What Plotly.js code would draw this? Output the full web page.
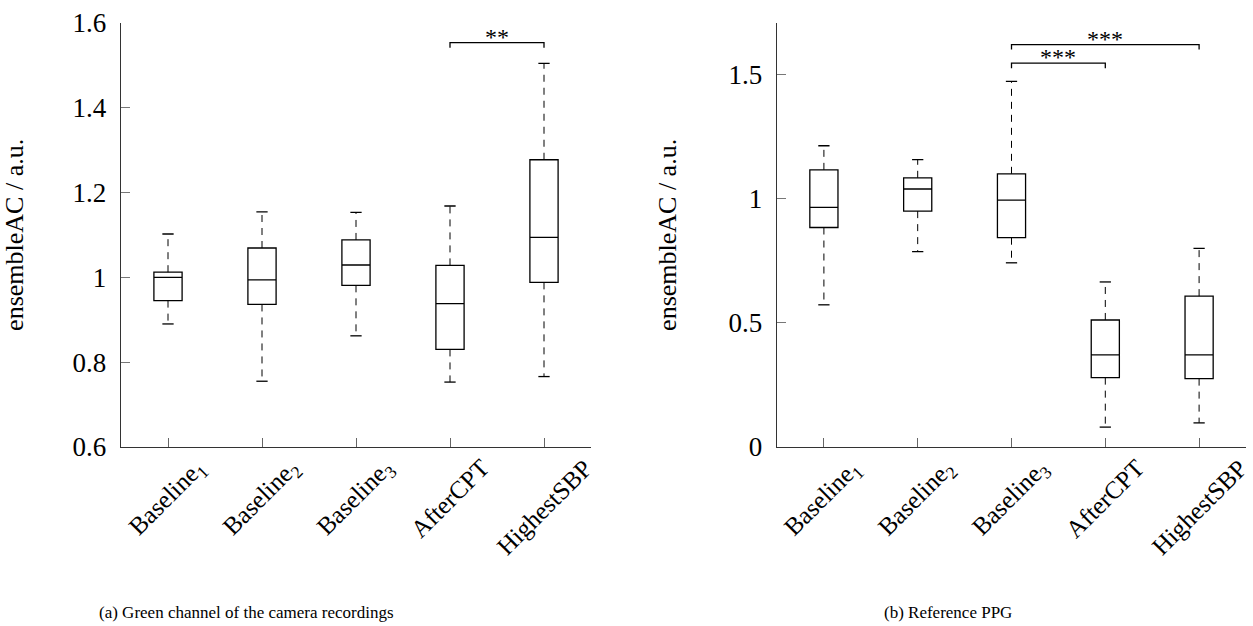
<!DOCTYPE html>
<html>
<head>
<meta charset="utf-8">
<script src="https://cdn.plot.ly/plotly-3.0.1.min.js"></script>
<style>html,body{margin:0;padding:0;background:#fff;}#chart{width:1253px;height:626px;}</style>
</head>
<body>
<div id="chart"></div>
<script>
// ---------- data ----------
const categories = ['Baseline<sub>1</sub>', 'Baseline<sub>2</sub>', 'Baseline<sub>3</sub>', 'AfterCPT', 'HighestSBP'];

// (a) Green channel of the camera recordings
const lowerA  = [0.890, 0.755, 0.862, 0.753, 0.766];
const q1A     = [0.945, 0.936, 0.981, 0.830, 0.988];
const medianA = [1.000, 0.994, 1.029, 0.938, 1.094];
const q3A     = [1.012, 1.069, 1.088, 1.028, 1.277];
const upperA  = [1.102, 1.154, 1.153, 1.168, 1.504];

// (b) Reference PPG
const lowerB  = [0.572, 0.786, 0.741, 0.080, 0.097];
const q1B     = [0.883, 0.949, 0.842, 0.279, 0.275];
const medianB = [0.964, 1.038, 0.993, 0.371, 0.371];
const q3B     = [1.115, 1.083, 1.099, 0.511, 0.607];
const upperB  = [1.212, 1.156, 1.471, 0.664, 0.799];

// significance brackets
const sigFromA = [3];    const sigToA = [4];    const sigLevelA = [1.553];        const sigTextA = ['**'];
const sigFromB = [2, 2]; const sigToB = [4, 3]; const sigLevelB = [1.619, 1.544]; const sigTextB = ['***', '***'];

const yTickValsA = [0.6, 0.8, 1.0, 1.2, 1.4, 1.6];
const yTickTextA = ['0.6', '0.8', '1', '1.2', '1.4', '1.6'];
const yTickValsB = [0, 0.5, 1, 1.5];
const yTickTextB = ['0', '0.5', '1', '1.5'];

const captionA = '(a) Green channel of the camera recordings';
const captionB = '(b) Reference PPG';
const yTitle = 'ensembleAC / a.u.';

// ---------- geometry / style ----------
const W = 1253, H = 626;
const FONT = 'Liberation Serif, Times New Roman, serif';
const xs = categories.map((_, i) => i);
const yDom = [179 / H, 603.3 / H];
const rangeA = [0.6, 1.6];
const rangeB = [0, 1.707];
const capHalf = 0.06;
const dropPx = 5;
const labelTop = (H - 453) / H;

function boxTrace(q1, med, q3, xa, ya) {
  return {
    type: 'box', x: xs, q1: q1, median: med, q3: q3,
    lowerfence: q1, upperfence: q3,
    width: 0.3, whiskerwidth: 0,
    fillcolor: 'rgba(0,0,0,0)',
    line: {color: '#000', width: 1.3},
    xaxis: xa, yaxis: ya, hoverinfo: 'skip', showlegend: false
  };
}
function whiskerTrace(lo, q1, q3, hi, xa, ya) {
  const x = [], y = [];
  xs.forEach(i => { x.push(i, i, null, i, i, null); y.push(q3[i], hi[i], null, q1[i], lo[i], null); });
  return {type: 'scatter', mode: 'lines', x: x, y: y, xaxis: xa, yaxis: ya,
    line: {color: '#000', width: 1, dash: '7px,6px'}, hoverinfo: 'skip', showlegend: false};
}
function capTrace(lo, hi, xa, ya) {
  const x = [], y = [];
  xs.forEach(i => { x.push(i - capHalf, i + capHalf, null, i - capHalf, i + capHalf, null); y.push(hi[i], hi[i], null, lo[i], lo[i], null); });
  return {type: 'scatter', mode: 'lines', x: x, y: y, xaxis: xa, yaxis: ya,
    line: {color: '#000', width: 1.3}, hoverinfo: 'skip', showlegend: false};
}
function bracketTrace(from, to, lev, range, xa, ya) {
  const drop = dropPx * (range[1] - range[0]) / ((yDom[1] - yDom[0]) * H);
  const x = [], y = [];
  from.forEach((f, k) => { x.push(f, f, to[k], to[k], null); y.push(lev[k] - drop, lev[k], lev[k], lev[k] - drop, null); });
  return {type: 'scatter', mode: 'lines', x: x, y: y, xaxis: xa, yaxis: ya,
    line: {color: '#000', width: 1.3}, hoverinfo: 'skip', showlegend: false};
}
function bracketAnns(from, to, lev, txt, xr, yr) {
  return from.map((f, k) => ({
    xref: xr, yref: yr, x: (f + to[k]) / 2, y: lev[k], text: txt[k], showarrow: false,
    yanchor: 'bottom', yshift: -9, font: {family: FONT, size: 24, color: '#000'}
  }));
}
function catLabels(xr) {
  return categories.map((c, i) => ({
    xref: xr, yref: 'paper', x: i, y: labelTop, text: c, showarrow: false,
    textangle: -45, xanchor: 'center', yanchor: 'top', borderpad: 0,
    font: {family: FONT, size: 25, color: '#000'}
  }));
}

const traces = [
  boxTrace(q1A, medianA, q3A, 'x', 'y'),
  whiskerTrace(lowerA, q1A, q3A, upperA, 'x', 'y'),
  capTrace(lowerA, upperA, 'x', 'y'),
  bracketTrace(sigFromA, sigToA, sigLevelA, rangeA, 'x', 'y'),
  boxTrace(q1B, medianB, q3B, 'x2', 'y2'),
  whiskerTrace(lowerB, q1B, q3B, upperB, 'x2', 'y2'),
  capTrace(lowerB, upperB, 'x2', 'y2'),
  bracketTrace(sigFromB, sigToB, sigLevelB, rangeB, 'x2', 'y2')
];

const xCommon = {
  range: [-0.5, 4.5], tickvals: xs, ticktext: categories, showticklabels: false,
  ticks: 'inside', ticklen: 9, tickcolor: '#666', tickwidth: 1,
  showline: true, linecolor: '#333', linewidth: 1.3,
  showgrid: false, zeroline: false, fixedrange: true
};
const yCommon = {
  ticks: 'inside', ticklen: 9, tickcolor: '#777', tickwidth: 1,
  showline: true, linecolor: '#333', linewidth: 1.3,
  showgrid: false, zeroline: false, fixedrange: true,
  tickfont: {family: FONT, size: 27, color: '#000'}, ticklabelstandoff: 8,
  title: {text: yTitle, font: {family: FONT, size: 26, color: '#000'}, standoff: 44}
};

const layout = {
  width: W, height: H,
  margin: {l: 0, r: 0, t: 0, b: 0},
  paper_bgcolor: '#fff', plot_bgcolor: '#fff',
  showlegend: false,
  xaxis: Object.assign({}, xCommon, {domain: [121 / W, 591 / W], anchor: 'y'}),
  yaxis: Object.assign({}, yCommon, {domain: yDom, range: rangeA, tickvals: yTickValsA, ticktext: yTickTextA, anchor: 'x'}),
  xaxis2: Object.assign({}, xCommon, {domain: [777 / W, 1246 / W], anchor: 'y2'}),
  yaxis2: Object.assign({}, yCommon, {domain: yDom, range: rangeB, tickvals: yTickValsB, ticktext: yTickTextB, anchor: 'x2'}),
  annotations: [].concat(
    bracketAnns(sigFromA, sigToA, sigLevelA, sigTextA, 'x', 'y'),
    bracketAnns(sigFromB, sigToB, sigLevelB, sigTextB, 'x2', 'y2'),
    catLabels('x'),
    catLabels('x2'),
    [
      {xref: 'paper', yref: 'paper', x: 246 / W, y: (H - 612) / H, text: captionA, showarrow: false,
       xanchor: 'center', yanchor: 'middle', font: {family: FONT, size: 17, color: '#000'}},
      {xref: 'paper', yref: 'paper', x: 948 / W, y: (H - 612) / H, text: captionB, showarrow: false,
       xanchor: 'center', yanchor: 'middle', font: {family: FONT, size: 17, color: '#000'}}
    ]
  )
};

Plotly.newPlot('chart', traces, layout, {staticPlot: true, displayModeBar: false});
</script>
</body>
</html>
